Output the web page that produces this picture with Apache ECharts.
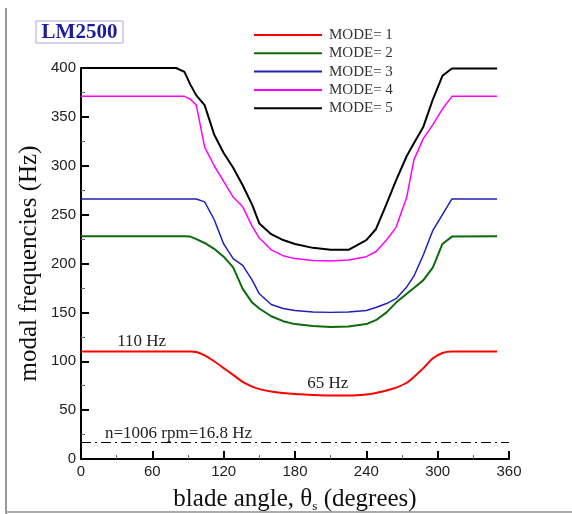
<!DOCTYPE html>
<html>
<head>
<meta charset="utf-8">
<script src="https://cdn.jsdelivr.net/npm/echarts@6/dist/echarts.min.js"></script>
<style>html,body{margin:0;padding:0;background:#fff;}#c{width:572px;height:514px;}</style>
</head>
<body>
<div id="c"></div>
<script>
// Blade angle (degrees) sample points
var angles = [0, 80, 87, 92, 97, 104, 112, 120, 128, 136, 144, 150, 160, 170, 180, 195, 210, 225, 240, 248, 257, 265, 274, 280, 288, 296, 304, 312, 350];
// Modal frequencies (Hz)
var mode1 = [110, 110, 110, 110, 109.5, 106, 100, 93, 86, 79, 74, 71.5, 69, 67.5, 66.5, 65.5, 65, 65, 66, 67.5, 70, 73, 78, 84, 93, 103, 108.5, 110, 110];
var mode2 = [228, 228, 228, 227.5, 225, 221, 215, 207, 196, 174, 160, 154, 146, 141, 138, 136, 135, 135.5, 138, 142, 150, 160, 169, 175, 183, 196, 220, 227.5, 228];
var mode3 = [266, 266, 266, 266, 266, 263, 245, 220, 205, 198, 183, 169, 158, 154, 152, 150.5, 150, 150.5, 152, 155, 159, 164, 176, 187, 209, 234, 250, 266, 266];
var mode4 = [371, 371, 371, 368, 362, 319, 300, 284, 268, 258, 238, 226, 214, 208, 205, 203, 202.5, 203.5, 207, 212, 224, 237, 268, 306, 328, 342, 358, 371, 371];
var mode5 = [400, 400, 396, 383, 372, 362, 332, 313, 298, 280, 260, 241, 230, 224, 220, 216, 214, 214, 224, 235, 261, 285, 310, 323, 340, 368, 392, 399.5, 399.5];
var modeNames = ['MODE= 1', 'MODE= 2', 'MODE= 3', 'MODE= 4', 'MODE= 5'];
var rotorFreq = 16.8;
var xTicks = [0, 60, 120, 180, 240, 300, 360];
var yTicks = [0, 50, 100, 150, 200, 250, 300, 350, 400];
// Text annotations in data coordinates
var annoText = ['110 Hz', '65 Hz', 'n=1006 rpm=16.8 Hz'];
var annoX = [51, 207.6, 82];
var annoY = [120.4, 77.5, 26.3];

function pairs(ys) { return angles.map(function (a, i) { return [a, ys[i]]; }); }

var serif = '"Liberation Serif", "DejaVu Serif", serif';
var sans = '"Liberation Sans", Arial, sans-serif';
var colors = ['#ff0000', '#0b6b0b', '#2020b8', '#ff00ff', '#000000'];
var widths = [2, 2, 1.5, 1.5, 2];
var allData = [mode1, mode2, mode3, mode4, mode5];

var series = allData.map(function (d, i) {
  var s = {
    name: modeNames[i], type: 'line', data: pairs(d), showSymbol: false, symbol: 'none',
    smooth: i === 0 ? 0.35 : false,
    lineStyle: { color: colors[i], width: widths[i] }, itemStyle: { color: colors[i] },
    z: 3 + i
  };
  if (i === 0) {
    s.markLine = {
      silent: true, symbol: ['none', 'none'], label: { show: false },
      lineStyle: { color: '#000', width: 1, type: [10, 4, 2, 4] },
      data: [{ yAxis: rotorFreq }]
    };
    s.markPoint = {
      silent: true, symbol: 'circle', symbolSize: 0.1,
      data: annoText.map(function (t, k) {
        return { coord: [annoX[k], annoY[k]], value: t,
          label: { show: true, position: 'inside', formatter: t, color: '#222', fontFamily: serif, fontSize: 17 } };
      })
    };
  }
  return s;
});

var chart = echarts.init(document.getElementById('c'));
chart.setOption({
  animation: false,
  backgroundColor: '#fff',
  grid: { left: 81, right: 63, top: 68, bottom: 55, containLabel: false, outerBoundsMode: 'none' },
  legend: {
    data: modeNames, orient: 'vertical', left: 249, top: 22,
    icon: 'rect', itemWidth: 68, itemHeight: 2, itemGap: 2.3,
    textStyle: { fontFamily: serif, fontSize: 15, color: '#333', lineHeight: 16, padding: [0, 0, 0, 2] }
  },
  xAxis: {
    type: 'value', min: 0, max: 360, interval: 60,
    name: '{a|blade angle, θ}{s|s}{a| (degrees)}', nameLocation: 'middle', nameGap: 27, nameMoveOverlap: false,
    nameTextStyle: { rich: {
      a: { fontFamily: serif, fontSize: 25, color: '#111' },
      s: { fontFamily: serif, fontSize: 13, color: '#111', padding: [14, 0, 0, 0] }
    } },
    axisLine: { show: true, lineStyle: { color: '#000', width: 2 } },
    axisTick: { show: true, inside: true, length: 8, lineStyle: { color: '#000', width: 2 } },
    minorTick: { show: true, splitNumber: 2, length: 4, lineStyle: { color: '#666', width: 1 } },
    splitLine: { show: false },
    axisLabel: { fontFamily: sans, fontSize: 15, color: '#222', margin: 5 }
  },
  yAxis: {
    type: 'value', min: 0, max: 400, interval: 50,
    name: 'modal frequencies (Hz)', nameLocation: 'middle', nameGap: 39, nameRotate: 90, nameMoveOverlap: false,
    nameTextStyle: { fontFamily: serif, fontSize: 25, color: '#111' },
    axisLine: { show: true, lineStyle: { color: '#000', width: 2 } },
    axisTick: { show: true, inside: true, length: 8, lineStyle: { color: '#000', width: 2 } },
    minorTick: { show: true, splitNumber: 2, length: 4, lineStyle: { color: '#666', width: 1 } },
    splitLine: { show: false },
    axisLabel: { fontFamily: sans, fontSize: 15, color: '#222', margin: 5 }
  },
  graphic: [
    { type: 'line', shape: { x1: 6, y1: 8, x2: 6, y2: 514 }, style: { stroke: '#999', lineWidth: 2 }, silent: true },
    { type: 'line', shape: { x1: 6, y1: 512, x2: 572, y2: 512 }, style: { stroke: '#aaa', lineWidth: 2 }, silent: true },
    { type: 'rect', shape: { x: 36, y: 21, width: 87, height: 22 }, style: { fill: '#fff', stroke: '#a8a8e0', lineWidth: 1 }, silent: true },
    { type: 'text', x: 79.5, y: 32.5, style: { text: 'LM2500', fontFamily: serif, fontWeight: 'bold', fontSize: 21, fill: '#1c1c9c', align: 'center', verticalAlign: 'middle' }, silent: true }
  ],
  series: series
});
</script>
</body>
</html>
